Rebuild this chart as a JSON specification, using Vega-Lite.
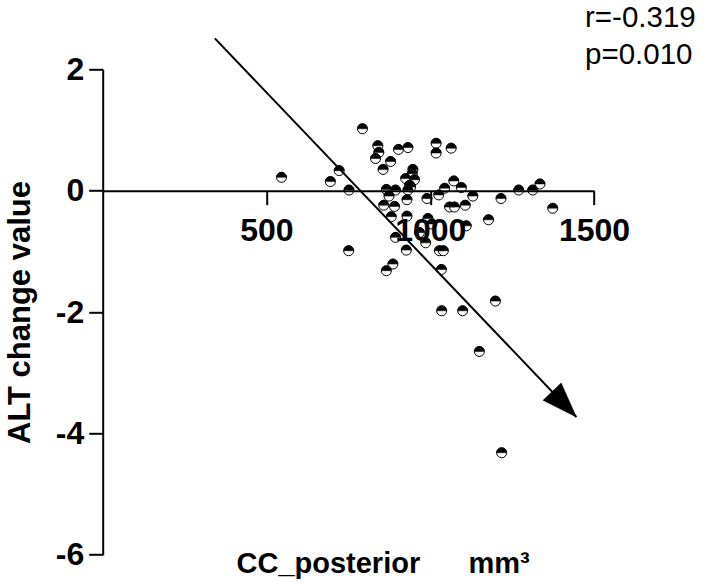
{
  "$schema": "https://vega.github.io/schema/vega-lite/v6.json",
  "width": 491.3,
  "height": 485.4,
  "autosize": {"type": "none"},
  "padding": {"left": 102.7, "top": 69.3, "right": 115, "bottom": 30.3},
  "background": "white",
  "config": {
    "view": {"stroke": null},
    "axis": {
      "grid": false,
      "domainColor": "black",
      "tickColor": "black",
      "labelColor": "black",
      "titleColor": "black",
      "labelFont": "Liberation Sans",
      "titleFont": "Liberation Sans",
      "labelFontWeight": "bold",
      "titleFontWeight": "bold",
      "domainWidth": 2,
      "tickWidth": 2,
      "tickSize": 14,
      "labelFontSize": 32,
      "labelFlush": false,
      "labelBound": false,
      "labelOverlap": false
    }
  },
  "title": {
    "text": ["r=-0.319", "p=0.010"],
    "frame": "group",
    "anchor": "start",
    "align": "left",
    "baseline": "alphabetic",
    "orient": "top",
    "offset": 0,
    "dx": 482.3,
    "dy": 59.5,
    "font": "Liberation Sans",
    "fontSize": 29.5,
    "fontWeight": "normal",
    "color": "black",
    "lineHeight": 37.6
  },
  "datasets": {
    "points": [
      {"x": 546, "y": 0.22}, {"x": 695, "y": 0.15}, {"x": 722, "y": 0.33}, {"x": 752, "y": 0.01},
      {"x": 751, "y": -0.99}, {"x": 793, "y": 1.02}, {"x": 840, "y": 0.74}, {"x": 843, "y": 0.63},
      {"x": 833, "y": 0.53}, {"x": 879, "y": 0.48}, {"x": 856, "y": 0.35}, {"x": 903, "y": 0.68},
      {"x": 932, "y": 0.71}, {"x": 1018, "y": 0.78}, {"x": 1018, "y": 0.62}, {"x": 1064, "y": 0.70},
      {"x": 947, "y": 0.35}, {"x": 945, "y": 0.28}, {"x": 925, "y": 0.20}, {"x": 952, "y": 0.18},
      {"x": 937, "y": 0.09}, {"x": 932, "y": 0.01}, {"x": 866, "y": 0.02}, {"x": 894, "y": 0.01},
      {"x": 874, "y": -0.09}, {"x": 929, "y": -0.15}, {"x": 990, "y": -0.13}, {"x": 1026, "y": -0.07},
      {"x": 1044, "y": 0.04}, {"x": 1072, "y": 0.16}, {"x": 1095, "y": 0.05}, {"x": 1130, "y": -0.09},
      {"x": 858, "y": -0.24}, {"x": 891, "y": -0.26}, {"x": 1059, "y": -0.27}, {"x": 1074, "y": -0.27},
      {"x": 1107, "y": -0.24}, {"x": 881, "y": -0.43}, {"x": 929, "y": -0.42}, {"x": 1178, "y": -0.48},
      {"x": 894, "y": -0.77}, {"x": 967, "y": -0.69}, {"x": 986, "y": -0.86}, {"x": 1110, "y": -0.58},
      {"x": 927, "y": -0.98}, {"x": 1028, "y": -0.99}, {"x": 1040, "y": -0.99}, {"x": 886, "y": -1.21},
      {"x": 866, "y": -1.32}, {"x": 1034, "y": -1.30}, {"x": 1199, "y": -1.82}, {"x": 1035, "y": -1.98},
      {"x": 1099, "y": -1.98}, {"x": 1150, "y": -2.65}, {"x": 1218, "y": -4.32}, {"x": 1216, "y": -0.13},
      {"x": 1270, "y": 0.01}, {"x": 1313, "y": 0.01}, {"x": 1335, "y": 0.11}, {"x": 1374, "y": -0.29},
      {"x": 993, "y": -0.46}, {"x": 940, "y": 0.06}, {"x": 1005, "y": -0.55}
    ],
    "trend": [
      {"x": 342.4, "y": 2.51},
      {"x": 1446, "y": -3.73}
    ],
    "arrowhead": [
      {"x": 1446, "y": -3.73}
    ]
  },
  "encoding": {
    "x": {
      "field": "x",
      "type": "quantitative",
      "scale": {"domain": [0, 1500], "nice": false, "zero": false},
      "axis": {
        "values": [500, 1000, 1500],
        "labelExpr": "toString(datum.value)",
        "offset": -364.05,
        "labelPadding": 11,
        "title": "CC_posterior\u00a0\u00a0\u00a0\u00a0\u00a0\u00a0mm³",
        "titleFontSize": 29,
        "titleX": 133.3,
        "titleY": 382,
        "titleAlign": "left",
        "titleBaseline": "alphabetic",
        "zindex": 1
      }
    },
    "y": {
      "field": "y",
      "type": "quantitative",
      "scale": {"domain": [-6, 2], "nice": false, "zero": false},
      "axis": {
        "values": [-6, -4, -2, 0, 2],
        "labelExpr": "toString(datum.value)",
        "labelPadding": 5,
        "title": "ALT change value",
        "titleFontSize": 31,
        "titleX": -81.9,
        "titleY": 242.7,
        "titleAngle": -90,
        "titleAlign": "center",
        "titleBaseline": "middle",
        "zindex": 1
      }
    }
  },
  "layer": [
    {
      "data": {"name": "points"},
      "mark": {"type": "point", "shape": "circle", "filled": true, "fill": "white", "stroke": "black", "strokeWidth": 1, "size": 100, "opacity": 1}
    },
    {
      "data": {"name": "points"},
      "mark": {"type": "point", "shape": "M-1,0A1,1,0,0,1,1,0Z", "filled": true, "fill": "black", "stroke": "black", "strokeWidth": 0.5, "size": 100, "opacity": 1}
    },
    {
      "data": {"name": "trend"},
      "mark": {"type": "line", "color": "black", "strokeWidth": 2}
    },
    {
      "data": {"name": "arrowhead"},
      "mark": {"type": "point", "shape": "M0,0L-2.8,-1L-2.8,1Z", "filled": true, "fill": "black", "stroke": "black", "strokeWidth": 0.5, "size": 625, "angle": 46.3, "opacity": 1}
    }
  ]
}
